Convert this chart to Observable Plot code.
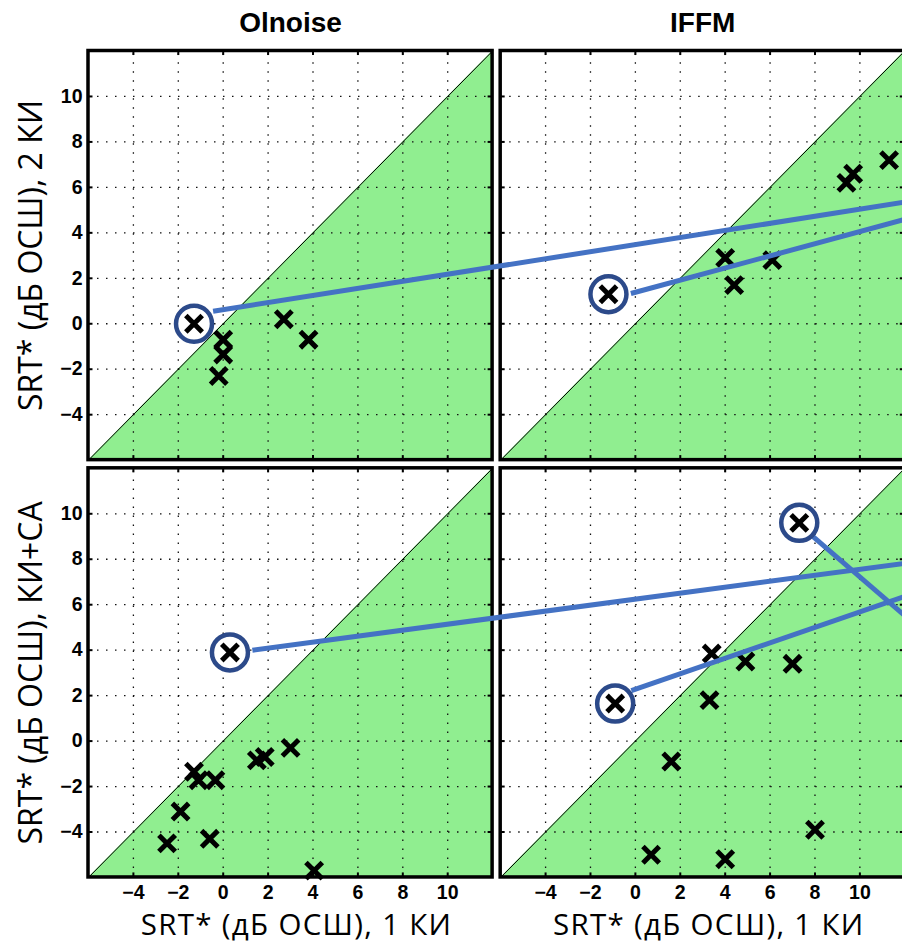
<!DOCTYPE html>
<html><head><meta charset="utf-8">
<script src="https://cdn.jsdelivr.net/npm/d3@7"></script>
<script src="https://cdn.jsdelivr.net/npm/@observablehq/plot@0.6"></script>
<style>html,body{margin:0;padding:0;background:#fff;overflow:hidden}</style>
</head><body><div id="chart"></div>
<script>
const panelTitles = ["Olnoise", "IFFM"];
const rowLabels = ["SRT* (дБ ОСШ), 2 КИ", "SRT* (дБ ОСШ), КИ+СА"];
const xLabel = "SRT* (дБ ОСШ), 1 КИ";
const ticks = [-4, -2, 0, 2, 4, 6, 8, 10];
const lims = [-6, 12];

// row 0: 2 КИ vs 1 КИ
const ol2X = [-1.3, 0.0, 0.0, -0.2, 2.7, 3.8];
const ol2Y = [0.0, -0.7, -1.35, -2.3, 0.2, -0.7];
const if2X = [-1.2, 4.0, 4.4, 6.1, 9.4, 9.7, 11.3];
const if2Y = [1.3, 2.9, 1.7, 2.8, 6.2, 6.6, 7.2];
// row 1: КИ+СА vs 1 КИ
const olSaX = [0.3, -1.3, -1.1, -0.35, -1.9, -2.5, -0.6, 1.5, 1.85, 3.0, 4.05];
const olSaY = [3.9, -1.35, -1.72, -1.72, -3.1, -4.5, -4.3, -0.85, -0.7, -0.3, -5.7];
const ifSaX = [7.3, -0.9, 3.4, 3.3, 4.9, 7.0, 1.6, 8.0, 0.7, 4.0];
const ifSaY = [9.6, 1.65, 3.85, 1.8, 3.5, 3.4, -0.9, -3.9, -5.0, -5.2];
// number of leading points in each panel that are circled
const circledCount = [1, 1, 1, 2];

// connector lines (start at circle edge, run off the right side of the picture)
const linkRow = [0, 0, 1, 1, 1];
const linkStartCol = [0, 1, 0, 1, 1];
const linkStartX = [-0.45, -0.2, 1.3, -0.18, 7.85];
const linkStartY = [0.55, 1.33, 4.0, 2.22, 9.05];
const linkEndCol = [1, 1, 1, 1, 1];
const linkEndX = [12.3, 12.3, 12.3, 12.3, 12.3];
const linkEndY = [5.4, 4.67, 7.86, 6.47, 5.26];

const S = 18.36; // panel step in data units
const gx = (col, v) => col * S + v;
const gy = (row, v) => v - row * S;

const panels = [
  {row: 0, col: 0, xs: ol2X, ys: ol2Y},
  {row: 0, col: 1, xs: if2X, ys: if2Y},
  {row: 1, col: 0, xs: olSaX, ys: olSaY},
  {row: 1, col: 1, xs: ifSaX, ys: ifSaY}
];

const pts = [];
panels.forEach((p, i) => p.xs.forEach((x, j) => pts.push({
  X: gx(p.col, x), Y: gy(p.row, p.ys[j]), circled: j < circledCount[i]
})));
const plain = pts.filter(d => !d.circled);
const circ = pts.filter(d => d.circled);

const tri = [];
panels.forEach((p, i) => lims.forEach(v => tri.push({
  p: i, X: gx(p.col, v), Y1: gy(p.row, lims[0]), Y2: gy(p.row, v)
})));

const frames = panels.map(p => ({
  x1: gx(p.col, lims[0]), x2: gx(p.col, lims[1]), y1: gy(p.row, lims[0]), y2: gy(p.row, lims[1])
}));

const vGrid = [], hGrid = [], vTick = [], hTick = [];
const tl = 0.2;
panels.forEach(p => ticks.forEach(t => {
  vGrid.push({X: gx(p.col, t), Y1: gy(p.row, lims[0]), Y2: gy(p.row, lims[1])});
  hGrid.push({Y: gy(p.row, t), X1: gx(p.col, lims[0]), X2: gx(p.col, lims[1])});
  vTick.push({X: gx(p.col, t), Y1: gy(p.row, lims[0]), Y2: gy(p.row, lims[0] + tl)});
  vTick.push({X: gx(p.col, t), Y1: gy(p.row, lims[1]), Y2: gy(p.row, lims[1] - tl)});
  hTick.push({Y: gy(p.row, t), X1: gx(p.col, lims[0]), X2: gx(p.col, lims[0] + tl)});
  hTick.push({Y: gy(p.row, t), X1: gx(p.col, lims[1]), X2: gx(p.col, lims[1] - tl)});
}));

const links = linkRow.map((r, i) => ({
  x1: gx(linkStartCol[i], linkStartX[i]), y1: gy(r, linkStartY[i]),
  x2: gx(linkEndCol[i], linkEndX[i]), y2: gy(r, linkEndY[i])
}));

const fmt = t => t < 0 ? "\u2212" + Math.abs(t) : String(t);
const yTickLabels = [];
[0, 1].forEach(r => ticks.forEach(t => yTickLabels.push({X: gx(0, lims[0]), Y: gy(r, t), t: fmt(t)})));
const xTickLabels = [];
[0, 1].forEach(c => ticks.forEach(t => xTickLabels.push({X: gx(c, t), Y: gy(1, lims[0]), t: fmt(t)})));
const titles = panelTitles.map((t, c) => ({X: gx(c, 3), Y: gy(0, lims[1]), t}));
const xLabs = [0, 1].map(c => ({X: gx(c, 3), Y: gy(1, lims[0]), t: xLabel}));
const yLabs = rowLabels.map((t, r) => ({X: gx(0, lims[0]), Y: gy(r, 3), t}));

const kx = 22.45, ky = 22.73;
const xDom = [lims[0], lims[1] + S];
const yDom = [lims[1], lims[0] - S];

const bold = "'Liberation Sans', Arial, Helvetica, sans-serif";
const labFont = "'Open Sans', 'Noto Sans', sans-serif";

const chart = Plot.plot({
  width: 902, height: 944,
  margin: 0,
  style: {overflow: "hidden", background: "white"},
  x: {type: "linear", domain: xDom, range: [88, 88 + (xDom[1] - xDom[0]) * kx], axis: null},
  y: {type: "linear", domain: yDom, range: [50.5, 50.5 + (yDom[0] - yDom[1]) * ky], axis: null},
  marks: [
    Plot.areaY(tri, {x: "X", y1: "Y1", y2: "Y2", z: "p", fill: "#90ee90"}),
    Plot.ruleX(vGrid, {x: "X", y1: "Y1", y2: "Y2", stroke: "#111", strokeWidth: 1.3, strokeDasharray: "1.5,7.5"}),
    Plot.ruleY(hGrid, {y: "Y", x1: "X1", x2: "X2", stroke: "#111", strokeWidth: 1.3, strokeDasharray: "1.5,7.5"}),
    Plot.ruleX(vTick, {x: "X", y1: "Y1", y2: "Y2", stroke: "black", strokeWidth: 2}),
    Plot.ruleY(hTick, {y: "Y", x1: "X1", x2: "X2", stroke: "black", strokeWidth: 2}),
    Plot.line(tri, {x: "X", y: "Y2", z: "p", stroke: "black", strokeWidth: 1}),
    Plot.rect(frames, {x1: "x1", x2: "x2", y1: "y1", y2: "y2", fill: "none", stroke: "black", strokeWidth: 3.5}),
    Plot.dot(plain, {x: "X", y: "Y", symbol: "times", r: 7.5, stroke: "black", strokeWidth: 5}),
    Plot.link(links, {x1: "x1", y1: "y1", x2: "x2", y2: "y2", stroke: "#4472c4", strokeWidth: 5}),
    Plot.dot(circ, {x: "X", y: "Y", r: 18, fill: "white", stroke: "#2c4a8a", strokeWidth: 4.5}),
    Plot.dot(circ, {x: "X", y: "Y", symbol: "times", r: 7.5, stroke: "black", strokeWidth: 5}),
    Plot.text(yTickLabels, {x: "X", y: "Y", text: "t", dx: -6, textAnchor: "end", fontSize: 19.5, fontWeight: "bold", fontFamily: bold, fill: "black"}),
    Plot.text(xTickLabels, {x: "X", y: "Y", text: "t", dy: 15, fontSize: 19.5, fontWeight: "bold", fontFamily: bold, fill: "black"}),
    Plot.text(titles, {x: "X", y: "Y", text: "t", dy: -28, fontSize: 28, fontWeight: "bold", fontFamily: bold, fill: "black"}),
    Plot.text(xLabs, {x: "X", y: "Y", text: "t", dy: 48, dx: 6, fontSize: 29.5, fontFamily: labFont, fill: "black"}),
    Plot.text(yLabs, {x: "X", y: "Y", text: "t", dx: -57, rotate: -90, fontSize: 32, fontFamily: labFont, fill: "black"})
  ]
});
chart.querySelectorAll("text").forEach(t => {
  if (t.textContent === xLabel) t.style.letterSpacing = "1.3px";
});
document.getElementById("chart").appendChild(chart);
</script>
</body></html>
